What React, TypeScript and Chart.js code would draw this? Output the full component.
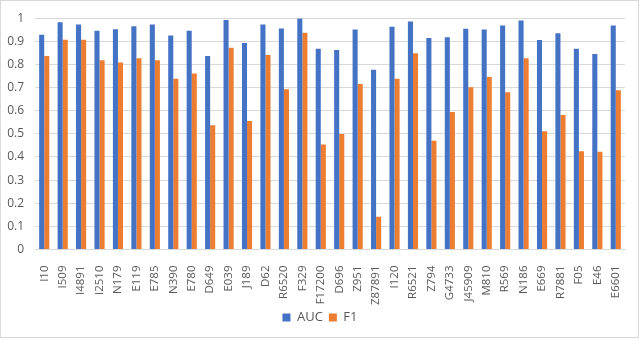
import React, { useEffect, useRef } from "react";
import { Chart, registerables } from "chart.js";

Chart.register(...registerables);

const categories = [
  "I10", "I509", "I4891", "I2510", "N179", "E119", "E785", "N390", "E780", "D649",
  "E039", "J189", "D62", "R6520", "F329", "F17200", "D696", "Z951", "Z87891", "I120",
  "R6521", "Z794", "G4733", "J45909", "M810", "R569", "N186", "E669", "R7881", "F05",
  "E46", "E6601",
];

const aucValues = [
  0.928, 0.982, 0.973, 0.946, 0.952, 0.965, 0.973, 0.925, 0.946, 0.837,
  0.992, 0.893, 0.973, 0.955, 0.999, 0.868, 0.862, 0.951, 0.777, 0.963,
  0.986, 0.914, 0.918, 0.954, 0.951, 0.968, 0.990, 0.906, 0.935, 0.868,
  0.845, 0.968,
];

const f1Values = [
  0.837, 0.907, 0.907, 0.818, 0.808, 0.827, 0.818, 0.738, 0.761, 0.537,
  0.872, 0.556, 0.841, 0.693, 0.937, 0.454, 0.499, 0.715, 0.142, 0.738,
  0.848, 0.470, 0.594, 0.701, 0.746, 0.680, 0.827, 0.511, 0.582, 0.425,
  0.423, 0.689,
];

const seriesNames = ["AUC", "F1"];

export default function App() {
  const ref = useRef<HTMLCanvasElement | null>(null);

  useEffect(() => {
    if (!ref.current) return;
    const family = "'Open Sans', 'Noto Sans', sans-serif";
    const chart = new Chart(ref.current, {
      type: "bar",
      data: {
        labels: categories,
        datasets: [
          {
            label: seriesNames[0],
            data: aucValues,
            backgroundColor: "#4472C4",
            borderWidth: 0,
          },
          {
            label: seriesNames[1],
            data: f1Values,
            backgroundColor: "#ED7D31",
            borderWidth: 0,
          },
        ],
      },
      options: {
        animation: false,
        responsive: false,
        maintainAspectRatio: false,
        layout: { padding: { left: 0, right: 0, top: 2, bottom: 6 } },
        datasets: {
          bar: { categoryPercentage: 0.55, barPercentage: 1 },
        },
        plugins: {
          tooltip: { enabled: false },
          legend: {
            position: "bottom",
            labels: {
              boxWidth: 8,
              boxHeight: 8,
              color: "#595959",
              font: { family, size: 13 },
              padding: 6,
            },
          },
        },
        scales: {
          x: {
            grid: { display: false },
            border: { display: true, color: "#d9d9d9" },
            afterFit: (scale: any) => {
              scale.height = 55.5;
            },
            ticks: {
              color: "#595959",
              font: { family, size: 11.5 },
              minRotation: 90,
              maxRotation: 90,
              autoSkip: false,
              padding: 8,
            },
          },
          y: {
            min: 0,
            max: 1,
            afterFit: (scale: any) => {
              scale.width = 35;
            },
            grid: { color: "#d9d9d9", drawTicks: false },
            border: { display: false },
            ticks: {
              stepSize: 0.1,
              color: "#595959",
              font: { family, size: 12 },
              padding: 11,
              callback: (v: any) => String(Math.round(Number(v) * 10) / 10),
            },
          },
          y2: {
            position: "right",
            display: true,
            min: 0,
            max: 1,
            afterFit: (scale: any) => {
              scale.width = 15;
            },
            grid: { display: false },
            border: { display: false },
            ticks: { display: false },
          },
        },
      },
    });
    return () => chart.destroy();
  }, []);

  return (
    <div
      style={{
        position: "fixed",
        left: 0,
        top: 0,
        width: 640,
        height: 340,
        background: "#ffffff",
      }}
    >
      <div
        style={{
          position: "absolute",
          left: 0,
          top: 0,
          width: 637,
          height: 336,
          border: "1px solid #d9d9d9",
          boxSizing: "content-box",
          pointerEvents: "none",
        }}
      />
      <canvas ref={ref} width={640} height={340} style={{ position: "absolute", left: 0, top: 0 }} />
    </div>
  );
}
